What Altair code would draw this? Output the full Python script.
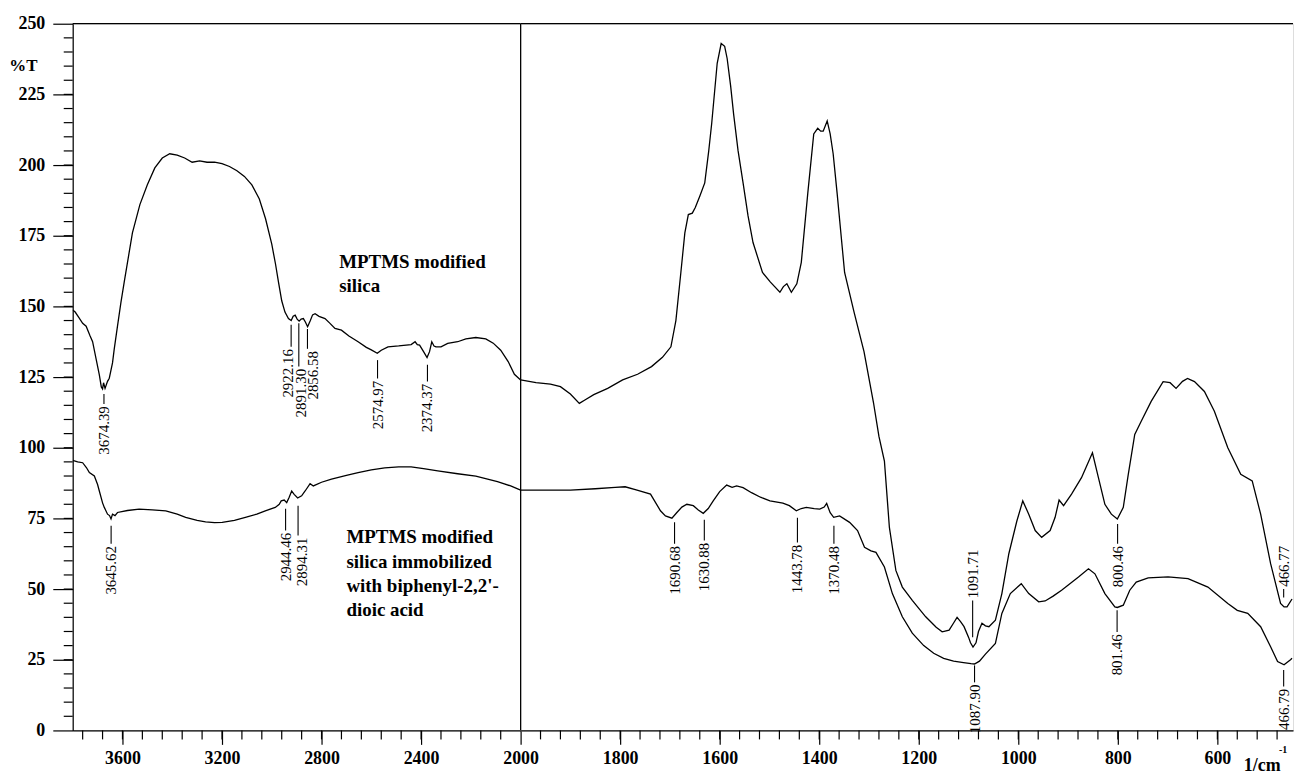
import altair as alt
import pandas as pd

FONT = "Liberation Serif"

# ---------------- spectra (wavenumber 1/cm, %T) ----------------
wn_silica = [3800, 3790, 3775, 3760, 3746, 3730, 3720, 3705, 3693, 3685, 3680, 3676, 3670, 3660,
             3653, 3640, 3633, 3620, 3606, 3593, 3560, 3530, 3500, 3470, 3440, 3410, 3380, 3350,
             3320, 3290, 3260, 3230, 3200, 3170, 3140, 3110, 3080, 3050, 3025, 3000, 2985, 2973,
             2960, 2947, 2933, 2922, 2914, 2906, 2898, 2890, 2882, 2873, 2865, 2856, 2845, 2836,
             2826, 2810, 2786, 2766, 2746, 2720, 2690, 2653, 2620, 2600, 2576, 2560, 2533, 2490,
             2460, 2440, 2424, 2415, 2406, 2390, 2376, 2366, 2357, 2348, 2340, 2320, 2293, 2253,
             2220, 2180, 2140, 2110, 2080, 2050, 2025, 2000,
             1969, 1940, 1920, 1900, 1882, 1870, 1853, 1825, 1795, 1765, 1737, 1715, 1698, 1688,
             1678, 1670, 1663, 1655, 1649, 1640, 1630, 1622, 1616, 1605, 1597, 1590, 1585, 1578,
             1572, 1563, 1553, 1543, 1533, 1514, 1498, 1479, 1472, 1465, 1456, 1445, 1436, 1423,
             1411, 1403, 1397, 1392, 1384, 1378, 1372, 1364, 1349, 1330, 1310, 1291, 1280, 1269,
             1259, 1246, 1233, 1213, 1186, 1165, 1153, 1139, 1130, 1123, 1116, 1109, 1100, 1096,
             1091, 1085, 1080, 1073, 1066, 1059, 1046, 1033, 1019, 1003, 991, 979, 966, 953, 936,
             926, 918, 909, 893, 873, 851, 839, 826, 813, 801, 789, 779, 766, 753, 733, 709, 695,
             683, 670, 660, 646, 626, 606, 579, 553, 530, 513, 493, 473, 466, 460, 450]
t_silica = [148.7, 148.0, 146.0, 144.0, 143.0, 139.5, 137.5, 131.0, 125.8, 121.5, 120.8, 123.0, 121.0, 123.5,
            124.6, 130.0, 135.0, 143.0, 151.5, 158.6, 176.0, 186.0, 193.0, 199.0, 202.5, 204.0, 203.5, 202.5,
            201.0, 201.5, 201.0, 201.0, 200.5, 199.5, 198.0, 196.0, 193.0, 188.0, 181.0, 172.0, 165.0, 158.6,
            152.0, 148.0, 145.7, 145.0, 146.5, 146.9, 145.5, 144.8, 145.5, 145.7, 144.5, 142.8, 145.0, 147.0,
            147.4, 146.5, 145.7, 144.0, 142.2, 141.6, 139.5, 137.5, 135.5, 134.6, 133.4, 134.5, 135.7, 136.0,
            136.3, 136.5, 137.5, 136.5, 136.3, 134.0, 131.9, 134.0, 137.5, 136.0, 135.7, 135.7, 136.9, 137.5,
            138.5, 139.0, 138.5, 137.0, 134.5, 130.5, 126.0, 124.0,
            123.0, 122.5, 121.6, 119.0, 115.7, 117.0, 118.8, 121.0, 124.0, 126.0, 128.7, 132.0, 135.7, 145.0,
            162.0, 176.0, 182.5, 183.0, 185.0, 189.0, 193.7, 205.0, 214.8, 236.0, 243.0, 242.0, 237.7, 228.0,
            218.0, 205.0, 193.7, 182.0, 172.6, 162.0, 158.6, 155.0, 157.0, 158.0, 155.0, 158.0, 165.6, 190.0,
            211.0, 213.0, 212.0, 212.0, 215.6, 211.0, 204.0, 190.0, 162.0, 148.0, 134.0, 116.0, 104.0, 95.3,
            71.8, 56.6, 50.7, 46.0, 40.2, 36.5, 34.9, 35.5, 38.0, 40.0, 38.5, 36.7, 33.0, 31.0,
            29.5, 31.0, 35.0, 37.9, 37.0, 36.7, 39.0, 48.4, 62.5, 74.0, 81.2, 76.5, 70.7, 68.3, 70.7,
            75.4, 81.5, 79.5, 83.6, 89.4, 98.2, 89.4, 80.0, 76.5, 74.8, 78.9, 90.6, 104.7, 109.4, 116.4, 123.4, 123.0,
            121.0, 123.5, 124.5, 123.4, 119.9, 112.9, 100.0, 90.6, 88.3, 76.5, 59.0, 44.9, 43.7, 43.7, 46.5]

wn_immob = [3800, 3780, 3760, 3745, 3733, 3713, 3700, 3693, 3680, 3673, 3660, 3652, 3646, 3640,
            3630, 3620, 3580, 3533, 3480, 3426, 3380, 3346, 3300, 3266, 3230, 3199, 3150, 3106,
            3060, 3026, 2986, 2970, 2962, 2950, 2940, 2930, 2920, 2910, 2896, 2880, 2866, 2846,
            2833, 2800, 2760, 2700, 2653, 2600, 2546, 2490, 2440, 2390, 2333, 2253, 2180, 2093,
            2040, 2000,
            1950, 1900, 1850, 1810, 1790, 1766, 1739, 1719, 1709, 1696, 1686, 1676, 1666, 1653,
            1643, 1633, 1623, 1613, 1600, 1586, 1575, 1566, 1553, 1536, 1518, 1499, 1473, 1460,
            1446, 1436, 1426, 1410, 1399, 1390, 1385, 1378, 1371, 1359, 1339, 1323, 1309, 1296,
            1286, 1269, 1253, 1233, 1213, 1190, 1170, 1150, 1130, 1110, 1095, 1088, 1078, 1066,
            1046, 1033, 1016, 994, 979, 959, 946, 930, 913, 879, 859, 846, 826, 806, 801, 789,
            776, 763, 739, 699, 659, 619, 579, 560, 539, 513, 493, 479, 466, 453, 450]
t_immob = [95.5, 95.0, 94.7, 93.0, 91.2, 90.0, 87.0, 84.7, 80.5, 78.9, 76.5, 76.0, 74.8, 76.5,
           76.0, 77.1, 77.8, 78.3, 78.0, 77.7, 76.5, 75.4, 74.3, 73.8, 73.5, 73.6, 74.3, 75.4,
           76.5, 77.7, 78.9, 80.0, 81.2, 81.5, 80.6, 82.5, 84.7, 83.5, 82.2, 83.0, 84.7, 87.3,
           86.5, 87.8, 88.9, 90.2, 91.2, 92.2, 92.9, 93.2, 93.2, 92.6, 91.8, 90.8, 90.0, 88.0,
           86.5, 85.0,
           85.0, 85.0, 85.5, 86.0, 86.2, 85.0, 83.6, 77.7, 75.9, 75.1, 77.1, 79.0, 80.0, 79.5,
           78.0, 76.8, 78.5, 81.2, 84.5, 86.8, 86.0, 86.5, 85.9, 84.1, 82.5, 81.2, 80.4, 79.5,
           77.7, 78.5, 78.9, 78.5, 78.3, 79.0, 80.3, 77.0, 75.4, 75.9, 73.6, 70.7, 64.8, 63.5,
           63.0, 57.8, 48.4, 40.2, 34.4, 30.0, 27.3, 25.5, 24.5, 24.0, 23.6, 23.5, 24.5, 27.0,
           30.8, 41.4, 48.4, 51.9, 48.4, 45.5, 45.8, 47.5, 49.6, 54.3, 57.2, 55.4, 48.4, 43.7, 43.5, 44.3,
           49.6, 52.5, 54.0, 54.3, 53.7, 50.7, 44.9, 42.5, 41.4, 36.7, 29.6, 24.4, 23.2, 25.0, 25.5]

# ---------------- peak annotations ----------------
peak_wn = [3674.39, 2922.16, 2891.30, 2856.58, 2574.97, 2374.37, 3645.62, 2944.46, 2894.31,
           1091.71, 800.46, 466.77, 1690.68, 1630.88, 1443.78, 1370.48, 1087.90, 801.46, 466.79]
peak_label = ["3674.39", "2922.16", "2891.30", "2856.58", "2574.97", "2374.37", "3645.62", "2944.46",
              "2894.31", "1091.71", "800.46", "466.77", "1690.68", "1630.88", "1443.78", "1370.48",
              "1087.90", "801.46", "466.79"]
peak_text_wn = [3674.39, 2936, 2884, 2836, 2574.97, 2374.37, 3645.62, 2944.46, 2879,
                1091.71, 800.46, 466.77, 1690.68, 1630.88, 1443.78, 1370.48, 1087.90, 801.46, 466.79]
peak_line_from = [119, 143.5, 144, 142, 131, 129.4, 72.4, 78.4, 79.5,
                  33, 73, 47, 73.6, 74.5, 75.2, 72.4, 23, 42.5, 21.4]
peak_line_to = [115.5, 135.7, 128.7, 135, 124.5, 123.4, 66, 70.7, 69,
                46, 66, 50, 66, 67.2, 66.5, 66, 17, 34.8, 15.5]
peak_side = ["down", "down", "down", "down", "down", "down", "down", "down", "down",
             "up", "down", "up", "down", "down", "down", "down", "down", "down", "down"]

# ---------------- series labels ----------------
series_label_wn = [2729, 2700]
series_label_t = [168.9, 71.5]
series_label_text = ["MPTMS modified\nsilica",
                     "MPTMS modified\nsilica immobilized\nwith biphenyl-2,2'-\ndioic acid"]

# ---------------- axes ----------------
x_major_left = [3600, 3200, 2800, 2400, 2000]
x_major_right = [1800, 1600, 1400, 1200, 1000, 800, 600]
x_minor_left = list(range(3760, 2000, -80))
x_minor_right = list(range(1960, 460, -40))
y_major = list(range(0, 251, 25))
y_minor = list(range(5, 250, 5))

H = 710
W_LEFT = 450
W_RIGHT = 776
Y_PER_PX = 250 / H            # data units per pixel (y)
X_PER_PX_LEFT = 4.0           # data units per pixel (left x)
MINOR_LEN = 9                 # px

curves = pd.concat([
    pd.DataFrame({"wn": wn_silica, "t": t_silica, "series": "MPTMS modified silica"}),
    pd.DataFrame({"wn": wn_immob, "t": t_immob, "series": "immobilized"}),
])
ann = pd.DataFrame({"wn": peak_wn, "label": peak_label, "twn": peak_text_wn,
                    "y0": peak_line_from, "y1": peak_line_to, "side": peak_side})
ann["ty"] = [y - 0.8 if s == "down" else y + 0.8 for y, s in zip(ann["y1"], ann["side"])]
labels = pd.DataFrame({"wn": series_label_wn, "t": series_label_t, "text": series_label_text})
one = pd.DataFrame({"d": [0]})

AX_COMMON = dict(grid=False, domainColor="black", tickColor="black", labelColor="black",
                 domainWidth=1.2, tickWidth=1.2, labelFlush=False, labelOverlap=False)


def x_axis(values):
    return alt.Axis(values=values, format="d", title=None, orient="bottom", tickSize=14,
                    labelPadding=5, labelFont=FONT, labelFontSize=18, labelFontWeight="bold",
                    **AX_COMMON)


y_axis = alt.Axis(values=y_major, format="d", orient="left", tickSize=20, labelPadding=8,
                  labelFont=FONT, labelFontSize=18, labelFontWeight="bold",
                  title="%T", titleAngle=0, titleX=-50, titleY=42, titleAlign="center",
                  titleBaseline="middle", titleFont=FONT, titleFontSize=17,
                  titleFontWeight="bold", titleColor="black", **AX_COMMON)


def panel(left):
    if left:
        domain, width, majors, minors = [3800, 2000], W_LEFT, x_major_left, x_minor_left
        cdat = curves[curves.wn >= 2000]
        adat = ann[ann.wn >= 2000]
        yax = y_axis
    else:
        domain, width, majors, minors = [2000, 448], W_RIGHT, x_major_right, x_minor_right
        cdat = curves[curves.wn <= 2000]
        adat = ann[ann.wn < 2000]
        yax = None
    xs = alt.Scale(domain=domain, nice=False, zero=False)
    ys = alt.Scale(domain=[0, 250], nice=False, zero=False)
    xa = x_axis(majors)

    # minor x ticks as field-based segments (same structure as the peak marker lines)
    xmin_df = pd.DataFrame({"mx": minors})
    xmin_df["ya"] = 0.0
    xmin_df["yb"] = -MINOR_LEN * Y_PER_PX

    layers = []
    # spectra
    layers.append(alt.Chart(cdat).mark_line(color="black", strokeWidth=1.3, clip=True).encode(
        x=alt.X("wn:Q", scale=xs, axis=xa),
        y=alt.Y("t:Q", scale=ys, axis=yax),
        detail="series:N",
        order=alt.Order("wn:Q")))
    # minor x ticks
    layers.append(alt.Chart(xmin_df).mark_rule(color="black", strokeWidth=1.2).encode(
        x=alt.X("mx:Q", scale=xs, axis=xa),
        y=alt.Y("ya:Q", scale=ys, axis=yax),
        y2="yb:Q"))
    # top frame line
    layers.append(alt.Chart(one).mark_rule(color="black", strokeWidth=1.2).encode(
        y=alt.Y(datum=250, scale=ys, axis=yax)))
    # peak marker lines
    layers.append(alt.Chart(adat).mark_rule(color="black", strokeWidth=1.1).encode(
        x=alt.X("wn:Q", scale=xs, axis=xa),
        y=alt.Y("y0:Q", scale=ys, axis=yax), y2="y1:Q"))
    # peak labels
    for side, align in (("down", "right"), ("up", "left")):
        sub = adat[adat.side == side]
        if len(sub):
            layers.append(alt.Chart(sub).mark_text(angle=270, align=align, baseline="middle",
                                                   font=FONT, fontSize=15, color="black").encode(
                x=alt.X("twn:Q", scale=xs, axis=xa),
                y=alt.Y("ty:Q", scale=ys, axis=yax),
                text="label:N"))
    if left:
        ymin_df = pd.DataFrame({"my": y_minor})
        ymin_df["xa0"] = float(domain[0])
        ymin_df["xb0"] = domain[0] + MINOR_LEN * X_PER_PX_LEFT
        layers.append(alt.Chart(ymin_df).mark_rule(color="black", strokeWidth=1.2).encode(
            y=alt.Y("my:Q", scale=ys, axis=yax),
            x=alt.X("xa0:Q", scale=xs, axis=xa),
            x2="xb0:Q"))
        layers.append(alt.Chart(labels).mark_text(align="left", baseline="top", lineBreak="\n",
                                                  lineHeight=24.5, font=FONT, fontSize=19,
                                                  fontWeight="bold", color="black").encode(
            x=alt.X("wn:Q", scale=xs, axis=xa),
            y=alt.Y("t:Q", scale=ys, axis=yax),
            text="text:N"))
    else:
        layers.append(alt.Chart(one).mark_rule(color="black", strokeWidth=1.2).encode(
            x=alt.X(datum=2000, scale=xs, axis=xa)))
        layers.append(alt.Chart(one).mark_text(text="1/cm", font=FONT, fontSize=18, fontWeight="bold",
                                               align="center", baseline="alphabetic", color="black").encode(
            x=alt.value(745), y=alt.value(H + 41)))
        layers.append(alt.Chart(one).mark_text(text="-1", font=FONT, fontSize=10, fontWeight="bold",
                                               align="center", baseline="alphabetic", color="black").encode(
            x=alt.value(766), y=alt.value(H + 23)))
    return alt.layer(*layers).properties(width=width, height=H)


chart = alt.hconcat(panel(True), panel(False), spacing=0, bounds="flush").properties(
    padding={"left": 0, "top": 4, "right": 0, "bottom": 0}
).configure_view(stroke=None).configure(background="white")

chart.save("out.html", embed_options={"renderer": "svg", "actions": False})
